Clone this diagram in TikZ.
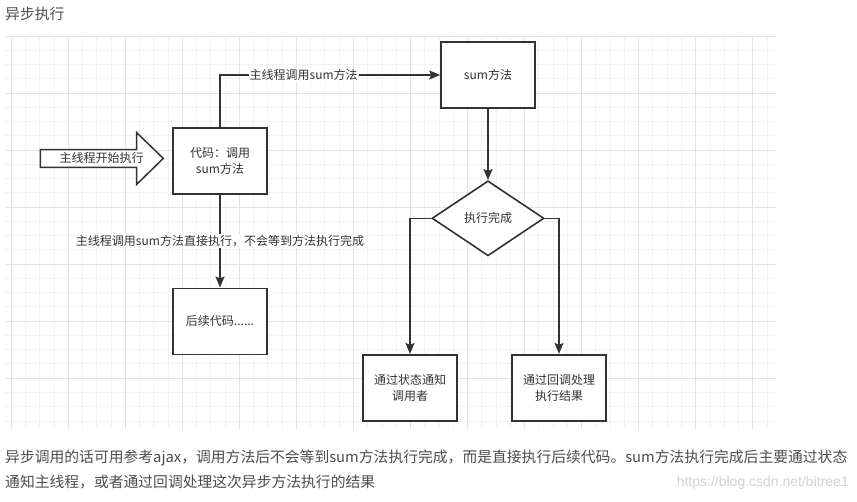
\documentclass[tikz,border=0pt]{standalone}
\usepackage{fontspec}
\setmainfont{Noto Sans CJK SC}
\newfontfamily\wmfont{Liberation Sans}
\usetikzlibrary{shapes.geometric,arrows.meta}

\definecolor{ink}{HTML}{333333}
\definecolor{prose}{HTML}{4D4D4D}
\definecolor{gridminor}{HTML}{F2F2F2}
\definecolor{gridmajor}{HTML}{E3E3E3}
\definecolor{wm}{HTML}{D2D2D2}

\tikzset{
  box/.style={draw=ink, fill=white, line width=1.6pt, minimum width=94pt, minimum height=66pt,
    align=center, text=ink, font=\fontsize{12}{16}\selectfont},
  judge/.style={diamond, aspect=1.5, draw=ink, fill=white, line width=1.6pt, inner sep=0pt,
    minimum width=112pt, minimum height=75pt, text=ink, font=\fontsize{12}{16}\selectfont},
  flow/.style={draw=ink, line width=1.6pt, ->},
  tag/.style={fill=white, inner sep=1pt, text=ink, font=\fontsize{12}{16}\selectfont},
  prose/.style={anchor=west, inner sep=0pt, text=prose, font=\fontsize{14.8}{18}\selectfont}
}

\begin{document}
\begin{tikzpicture}[x=1pt, y=-1pt, >={Stealth[length=11pt, width=9pt, inset=2pt]}]
    \fill[white] (0,0) rectangle (857,501);
    \useasboundingbox (0,0) rectangle (857,501);

    % grid
    \foreach \k [evaluate=\k as \x using 68.3+14.26*\k] in {-4,...,49}
      \draw[gridminor, line width=1pt] (\x,36) -- (\x,429);
    \foreach \k [evaluate=\k as \y using 36+14.26*\k] in {0,...,27}
      \draw[gridminor, line width=1pt] (5,\y) -- (776,\y);
    \foreach \k [evaluate=\k as \x using 68.3+14.26*\k] in {-4,0,...,48}
      \draw[gridmajor, line width=1pt] (\x,36) -- (\x,429);
    \foreach \k [evaluate=\k as \y using 36+14.26*\k] in {0,4,...,24}
      \draw[gridmajor, line width=1pt] (5,\y) -- (776,\y);

    \node[prose] (title) at (5,13.5) {异步执行};

    % main thread
    \draw[ink, fill=white, line width=1.5pt] (40.3,149.7) -- (136.7,149.7) -- (136.7,132.7) -- (163.3,158.4)
      -- (136.7,184.3) -- (136.7,167.3) -- (40.3,167.3) -- cycle;
    \node[tag, fill=none] (start) at (101.5,158.4) {主线程开始执行};

    \node[box] (code) at (220,160.7) {代码：调用\\sum方法};
    \node[box] (rest) at (220,321.3) {后续代码......};
    \node[box] (sum) at (488,75) {sum方法};
    \node[judge] (done) at (488,218.3) {执行完成};
    \node[box] (notify) at (410,387.7) {通过状态通知\\调用者};
    \node[box] (callback) at (559,387.7) {通过回调处理\\执行结果};

    \draw[flow] (code.north) |- (sum.west) node[tag, pos=0.69] {主线程调用sum方法};
    \draw[flow] (code.south) -- (rest.north) node[tag, midway] {主线程调用sum方法直接执行，不会等到方法执行完成};
    \draw[flow] (sum.south) -- (done.north);
    \draw[flow] (done.west) -| (notify.north);
    \draw[flow] (done.east) -| (callback.north);

    \node[prose] (note1) at (5,458.3) {异步调用的话可用参考ajax，调用方法后不会等到sum方法执行完成，而是直接执行后续代码。sum方法执行完成后主要通过状态};
    \node[prose] (note2) at (5,481.7) {通知主线程，或者通过回调处理这次异步方法执行的结果};
    \node[anchor=east, inner sep=0pt, text=wm, font=\wmfont\fontsize{14}{16}\selectfont] (mark) at (849,483) {https://blog.csdn.net/bitree1};
\end{tikzpicture}
\end{document}
